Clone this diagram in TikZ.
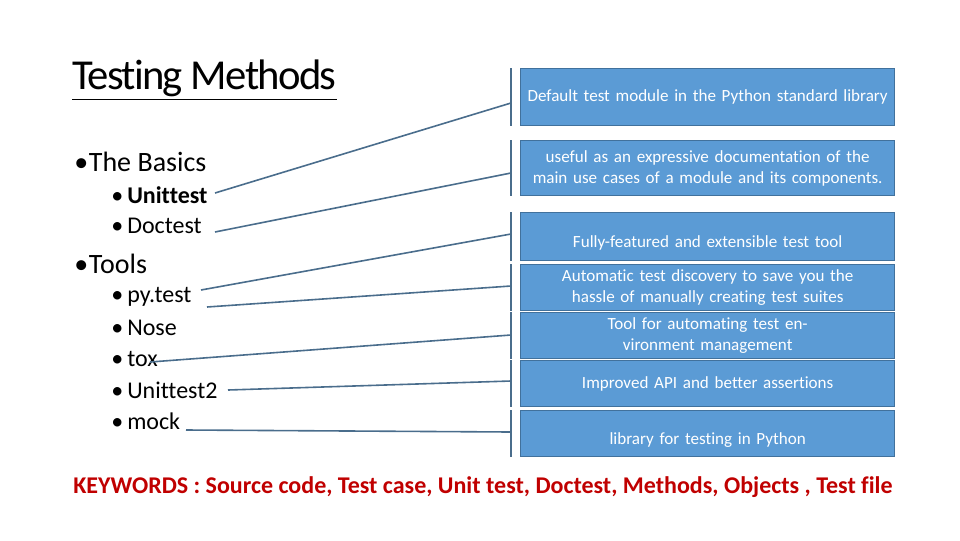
\documentclass[tikz,border=0pt]{standalone}
\usepackage{fontspec}
\setmainfont[Ligatures=NoCommon]{Carlito}
\usetikzlibrary{positioning}
\definecolor{boxblue}{HTML}{5B9BD5}
\definecolor{boxedge}{HTML}{41719C}
\definecolor{linkblue}{HTML}{4A6D8C}
\definecolor{keyred}{HTML}{C00000}
\tikzset{
  infobox/.style={draw=boxedge, line width=1pt, fill=boxblue, text=white, inner sep=2pt,
    minimum width=374*0.75pt, align=center, text width=364*0.75pt, anchor=north west,
    font=\fontsize{12.8}{16}\selectfont},
  bullet/.style={anchor=west, inner sep=0pt},
  big/.style={font=\fontsize{21}{24}\selectfont},
  small/.style={font=\fontsize{18}{21}\selectfont},
  link/.style={draw=linkblue, line width=1.2pt}
}
\newcommand{\bul}[1]{\makebox[#1][l]{\textbullet}}
\begin{document}
\begin{tikzpicture}[x=0.75pt, y=-0.75pt]
\useasboundingbox (0,0) rectangle (960,540);
\node[anchor=west, inner sep=0pt, font=\fontsize{32}{36}\selectfont] (title) at (72,80) {\underline{\addfontfeature{LetterSpace=-4}Testing Methods}};
\node[bullet, big] (basics) at (74,162) {\bul{11pt}The Basics};
\node[bullet, small] (unittest) at (111,195) {\bul{12pt}\textbf{Unittest}};
\node[bullet, small] (doctest) at (111,226) {\bul{12pt}Doctest};
\node[bullet, big] (tools) at (74,264) {\bul{11pt}Tools};
\node[bullet, small] (pytest) at (111,297) {\bul{12pt}py.test};
\node[bullet, small] (nose) at (111,328) {\bul{12pt}Nose};
\node[bullet, small] (tox) at (111,359) {\bul{12pt}tox};
\node[bullet, small] (unittesttwo) at (111,390) {\bul{12pt}Unittest2};
\node[bullet, small] (mock) at (111,421) {\bul{12pt}mock};

\node[infobox, minimum height=57*0.75pt] (b1) at (520,68) {Default test module in the Python standard library};
\node[infobox, minimum height=55*0.75pt] (b2) at (520,140) {useful as an expressive documentation of the main use cases of a module and its components.};
\node[infobox, minimum height=48*0.75pt] (b3) at (520,212) {\\[2pt]Fully-featured and extensible test tool};
\node[infobox, minimum height=46*0.75pt] (b4) at (520,264) {Automatic test discovery to save you the hassle of manually creating test suites};
\node[infobox, minimum height=46*0.75pt] (b5) at (520,312) {Tool for automating test environment management};
\node[infobox, minimum height=46*0.75pt] (b6) at (520,360) {Improved API and better assertions};
\node[infobox, minimum height=46*0.75pt] (b7) at (520,410) {\\[2pt]library for testing in Python};

% bars beside the boxes
\foreach \i in {1,...,7}
  \draw[link] ([xshift=-9*0.75pt]b\i.north west) -- ([xshift=-9*0.75pt]b\i.south west);

% connectors
\coordinate (a1) at (215,193); \coordinate (z1) at (511,103);
\coordinate (a2) at (215,232); \coordinate (z2) at (511,173);
\coordinate (a3) at (201,290); \coordinate (z3) at (511,234);
\coordinate (a4) at (207,307); \coordinate (z4) at (511,286);
\coordinate (a5) at (150,362); \coordinate (z5) at (511,335);
\coordinate (a6) at (228,390); \coordinate (z6) at (511,381);
\coordinate (a7) at (186,430); \coordinate (z7) at (511,432);
\foreach \i in {1,...,7} \draw[link] (a\i) -- (z\i);

\node[anchor=west, inner sep=0pt, text=keyred, font=\fontsize{18}{21}\selectfont\bfseries] (keys) at (73,487) {KEYWORDS : Source code, Test case, Unit test, Doctest, Methods, Objects , Test file};
\end{tikzpicture}
\end{document}
